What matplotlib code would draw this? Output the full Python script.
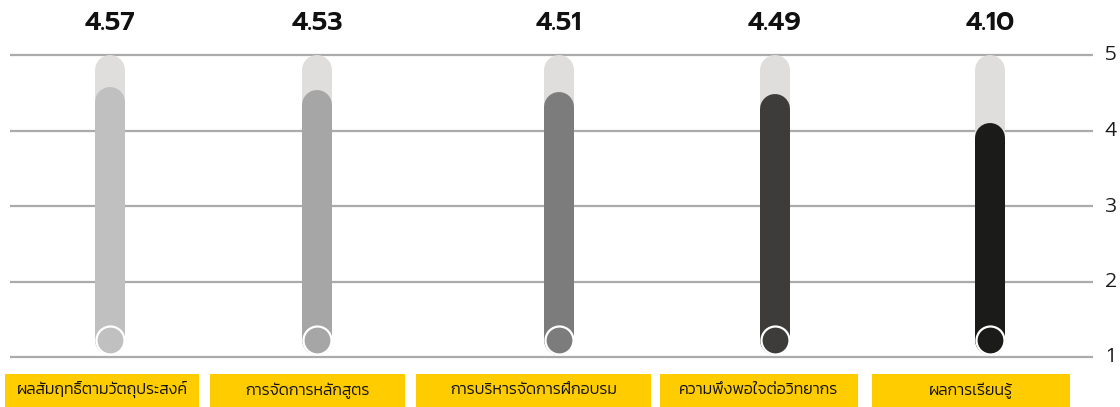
import matplotlib
matplotlib.use("Agg")
import matplotlib.pyplot as plt
import matplotlib.transforms as mtransforms
from matplotlib.patches import Rectangle

categories = ["ผลสัมฤทธิ์ตามวัตถุประสงค์", "การจัดการหลักสูตร", "การบริหารจัดการฝึกอบรม",
              "ความพึงพอใจต่อวิทยากร", "ผลการเรียนรู้"]
scores = [4.57, 4.53, 4.51, 4.49, 4.10]
score_labels = ["4.57", "4.53", "4.51", "4.49", "4.10"]
y_ticks = [1, 2, 3, 4, 5]

colors = ["#c0c0c0", "#a6a6a6", "#7c7c7c", "#3d3c3a", "#1b1b19"]
track_color = "#dfdedd"
yellow = "#ffcc00"

# layout in pixels (figure is 1120 x 407)
W, H = 1120, 407
bar_x = [110, 317, 559, 775, 990]
box_x = [(5, 199), (210, 405), (416, 651), (660, 858), (872, 1070)]
px_per_unit = 75.5
y5_px = H - 55
bar_w_px = 30

fig = plt.figure(figsize=(W / 100, H / 100), dpi=100)
ax = fig.add_axes([0, 0, 1, 1])
ax.set_xlim(0, W)
ax.set_ylim(5 - y5_px / px_per_unit, 5 + (H - y5_px) / px_per_unit)
ax.axis("off")

lw = bar_w_px * 72 / 100
r = (bar_w_px / 2) / px_per_unit
base = 1 + 17 / px_per_unit

# grid lines and right-side tick labels
for t in y_ticks:
    ax.plot([10, 1093], [t, t], color="#ababab", lw=1.6, zorder=1, solid_capstyle="butt")
    ax.text(1111, t, str(t), ha="center", va="center", fontsize=15,
            family="Prompt", fontweight=300, color="#1a1a1a")

for x, v, c, lab in zip(bar_x, scores, colors, score_labels):
    # background track up to 5, then the score bar, both with round tops
    ax.plot([x, x], [base, 5 - r], color=track_color, lw=lw, solid_capstyle="round", zorder=2)
    ax.plot([x, x], [base, v - r], color=c, lw=lw, solid_capstyle="round", zorder=3)
    ax.scatter([x], [base], s=(28 * 0.72) ** 2, color=c, edgecolor="white",
               linewidth=1.6, zorder=4)
    ax.text(x, 5.42, lab, ha="center", va="center", fontsize=19,
            family="Prompt", fontweight=600, color="#111111")

# category labels in yellow boxes along the bottom
trans = mtransforms.blended_transform_factory(ax.transData, ax.transAxes)
box_h = 33 / H
for (x0, x1), name in zip(box_x, categories):
    ax.add_patch(Rectangle((x0, 0), x1 - x0, box_h, transform=trans,
                           facecolor=yellow, edgecolor="none", zorder=2))
    ax.text((x0 + x1) / 2, box_h / 2, name, transform=trans, ha="center", va="center",
            fontsize=11.5, family="Kanit", fontweight=300, color="#111111")

fig.savefig("out.png", dpi=100)
